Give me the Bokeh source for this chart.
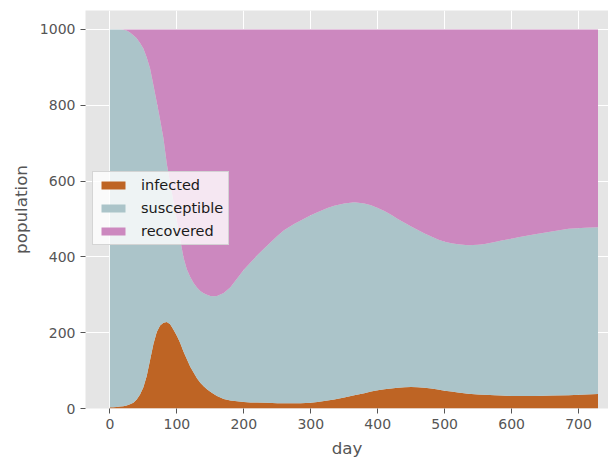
from bokeh.plotting import figure
from bokeh.models import ColumnDataSource, Range1d, FixedTicker, Legend
from bokeh.embed import file_html
from bokeh.resources import INLINE

# ---- data ----
days = [0, 5, 10, 15, 20, 25, 30, 35, 40, 45, 50, 55, 60, 65, 70, 75, 80, 85, 90, 95,
        100, 105, 110, 115, 120, 125, 130, 135, 140, 145, 150, 155, 160,
        170, 180, 190, 200, 210, 220,
        235, 250, 260, 275, 285,
        300, 310, 325, 335, 350, 365,
        380, 390, 400, 410, 420, 430, 440, 450, 460, 470, 480, 490, 500, 510, 520,
        535, 550, 560, 575, 585, 600, 610,
        635, 660, 685, 710, 729]
infected = [3, 3, 4, 5, 6, 8, 11, 15, 24, 37, 56, 86, 128, 170, 202, 219, 226, 228, 222, 208,
            192, 173, 150, 130, 110, 95, 80, 68, 59, 51, 44, 38, 33,
            25, 21, 19, 17, 16, 16,
            15, 14, 14, 14, 14,
            15, 17, 21, 24, 29, 35,
            40, 45, 48, 51, 53, 55, 56, 57, 56, 55, 53, 50, 47, 45, 42,
            39, 37, 36, 35, 34, 33, 33,
            33, 34, 35, 37, 38]
# top of the susceptible band (infected + susceptible)
upper = [1000, 1000, 1000, 1000, 999, 997, 992, 985, 977, 964, 950, 926, 897, 853, 808, 762, 712, 645, 595, 545,
         495, 445, 398, 367, 347, 331, 319, 310, 304, 300, 297, 296, 297,
         305, 320, 343, 366, 385, 404,
         430, 455, 470, 487, 496,
         510, 518, 529, 535, 541, 544,
         541, 536, 529, 521, 511, 500, 490, 480, 471, 462, 454, 446, 440, 436, 433,
         431, 432, 434, 439, 443, 448, 452,
         460, 467, 474, 477, 478]
total = 1000
susceptible = [u - i for u, i in zip(upper, infected)]
recovered = [total - u for u in upper]

series = ["infected", "susceptible", "recovered"]
colors = ["#BE6424", "#ABC4C9", "#CC88BF"]
x_ticks = [0, 100, 200, 300, 400, 500, 600, 700]
y_ticks = [0, 200, 400, 600, 800, 1000]

source = ColumnDataSource(dict(day=days, infected=infected,
                               susceptible=susceptible, recovered=recovered))

FONT = "DejaVu Sans"
p = figure(output_backend="svg", toolbar_location=None,
           frame_width=523, frame_height=398,
           min_border_left=85, min_border_right=0, min_border_top=10, min_border_bottom=10,
           x_range=Range1d(-36.45, 744.7), y_range=Range1d(0, 1050))

renderers = p.varea_stack(stackers=series, x="day", color=colors, source=source)
for r in renderers:
    r.glyph.fill_alpha = 1.0

legend = Legend(items=[(name, [r]) for name, r in zip(series, renderers)],
                location=(7, 163))
legend.label_text_font = FONT
legend.label_text_font_size = "14.5px"
legend.label_text_color = "#1a1a1a"
legend.glyph_width = 30
legend.glyph_height = 10
legend.label_height = 14
legend.spacing = 7
legend.padding = 5
legend.margin = 0
legend.background_fill_color = "white"
legend.background_fill_alpha = 0.8
legend.border_line_color = "#cccccc"
legend.border_line_alpha = 0.8
legend.label_standoff = 13
p.add_layout(legend, "center")

p.background_fill_color = "#E5E5E5"
p.border_fill_color = "white"
p.outline_line_color = None

p.xgrid.grid_line_color = "white"
p.ygrid.grid_line_color = "white"
p.xgrid.grid_line_width = 1
p.ygrid.grid_line_width = 1

p.xaxis.ticker = FixedTicker(ticks=x_ticks)
p.yaxis.ticker = FixedTicker(ticks=y_ticks)
p.xaxis.axis_label = "day"
p.yaxis.axis_label = "population"

for ax in (p.xaxis, p.yaxis):
    ax.axis_line_color = None
    ax.major_tick_line_color = "#555555"
    ax.major_tick_out = 5
    ax.major_tick_in = 0
    ax.minor_tick_line_color = None
    ax.major_label_text_font = FONT
    ax.major_label_text_font_size = "14px"
    ax.major_label_text_color = "#555555"
    ax.major_label_standoff = 5
    ax.axis_label_text_font = FONT
    ax.axis_label_text_font_size = "16.7px"
    ax.axis_label_text_font_style = "normal"
    ax.axis_label_text_color = "#555555"
    ax.axis_label_standoff = 6

open("out.html", "w").write(file_html(p, INLINE))
